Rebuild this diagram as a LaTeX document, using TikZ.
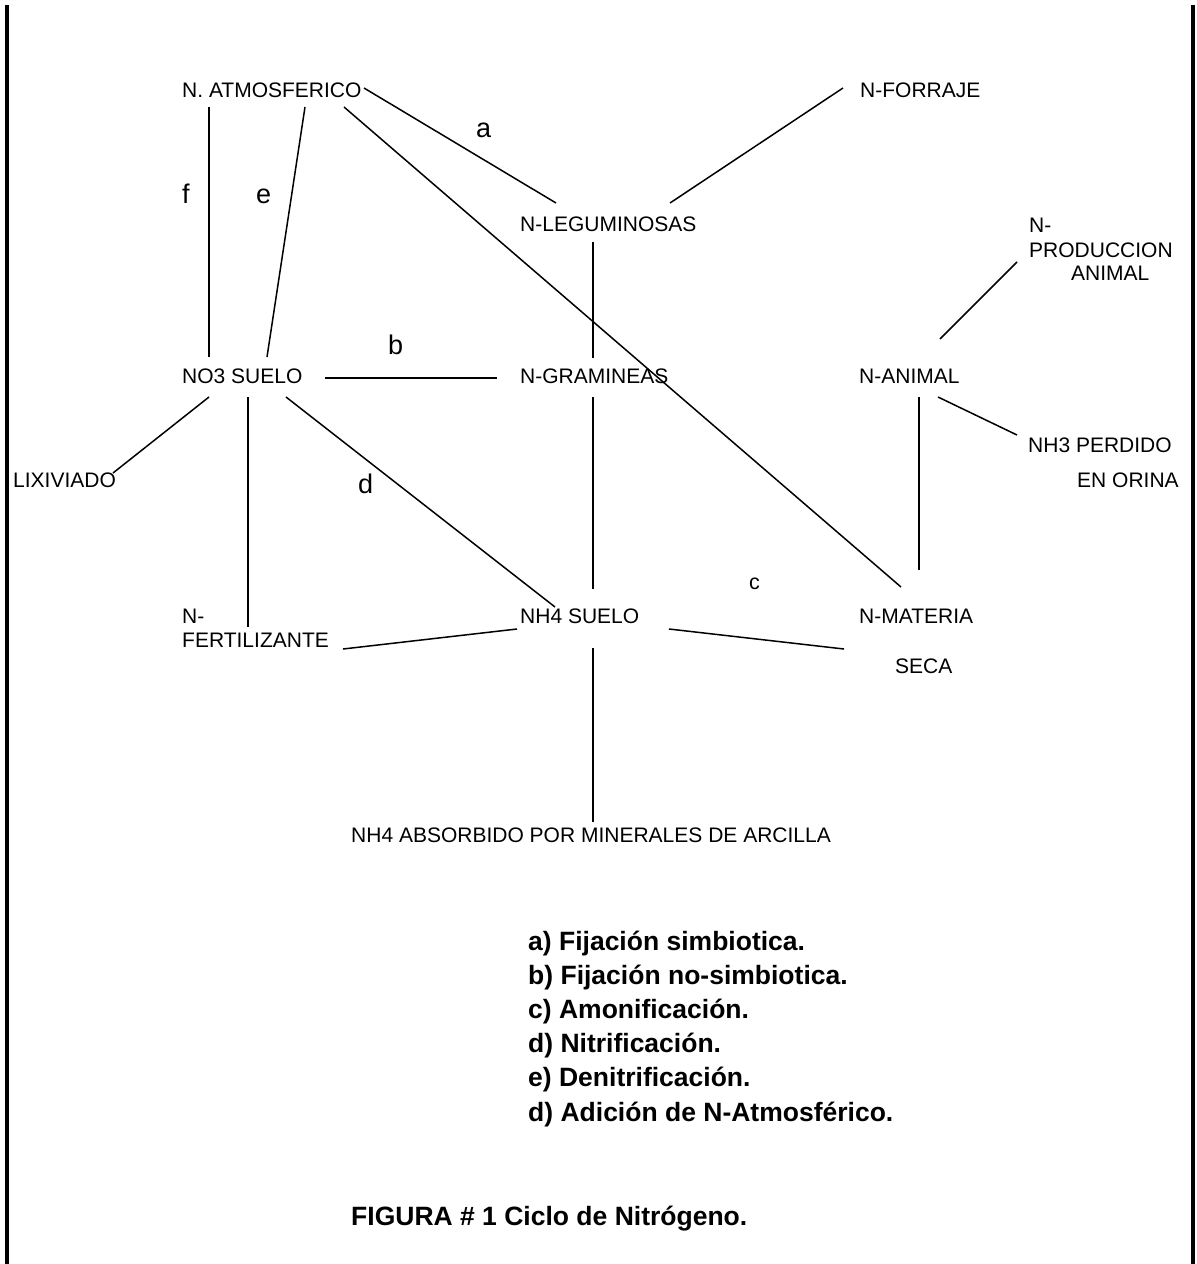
\documentclass[tikz,border=0pt]{standalone}
\usepackage{fontspec}
\setmainfont{Liberation Sans}
\begin{document}
\begin{tikzpicture}[x=1pt,y=-1pt,
  lbl/.style={anchor=base west, inner sep=0pt, font=\fontsize{21}{25}\selectfont},
  letter/.style={anchor=base west, inner sep=0pt, font=\fontsize{27}{30}\selectfont},
  small/.style={anchor=base west, inner sep=0pt, font=\fontsize{21.5}{25}\selectfont},
  legend/.style={anchor=base west, inner sep=0pt, font=\fontsize{26.5}{30}\selectfont\bfseries},
  conn/.style={line width=1.5pt, black},
  frameline/.style={line width=4pt, black}]
\useasboundingbox (0,0) rectangle (1197,1264);

% page frame (left and right rules)
\coordinate (frameLtop) at (7,5);
\coordinate (frameLbot) at (7,1264);
\coordinate (frameRtop) at (1193,5);
\coordinate (frameRbot) at (1193,1264);
\draw[frameline] (frameLtop) -- (frameLbot);
\draw[frameline] (frameRtop) -- (frameRbot);

% nodes
\node[lbl] (atm)   at (182,97)  {N. ATMOSFERICO};
\node[lbl] (forr)  at (860,97)  {N-FORRAJE};
\node[lbl] (leg)   at (520,231) {N-LEGUMINOSAS};
\node[lbl] (prodA) at (1029,232) {N-};
\node[lbl] (prodB) at (1029,257) {PRODUCCION};
\node[lbl] (prodC) at (1071,280) {ANIMAL};
\node[lbl] (no3)   at (182,383) {NO3 SUELO};
\node[lbl] (gram)  at (520,383) {N-GRAMINEAS};
\node[lbl] (anim)  at (859,383) {N-ANIMAL};
\node[lbl] (nh3A)  at (1028,452) {NH3 PERDIDO};
\node[lbl] (nh3B)  at (1077,487) {EN ORINA};
\node[lbl] (lix)   at (13,487)  {LIXIVIADO};
\node[lbl] (fertA) at (182,623) {N-};
\node[lbl] (fertB) at (182,647) {FERTILIZANTE};
\node[lbl] (nh4)   at (520,623) {NH4 SUELO};
\node[lbl] (matA)  at (859,623) {N-MATERIA};
\node[lbl] (matB)  at (895,673) {SECA};
\node[lbl] (absorb) at (351,842) {NH4 ABSORBIDO POR MINERALES DE ARCILLA};

% process letters
\node[letter] (la) at (476,137) {a};
\node[letter] (lb) at (388,354) {b};
\node[small]  (lc) at (749,589) {c};
\node[letter] (ld) at (358,493) {d};
\node[letter] (le) at (256,203) {e};
\node[letter] (lf) at (182,203) {f};

% connector end points
\coordinate (atmLegS) at (364,88);   \coordinate (atmLegE) at (556,203);
\coordinate (forLegS) at (843,88);   \coordinate (forLegE) at (670,203);
\coordinate (atmMatS) at (344,107);  \coordinate (atmMatE) at (901,587);
\coordinate (atmNoS)  at (305,107);  \coordinate (atmNoE)  at (267,357);
\coordinate (fS)      at (209,107);  \coordinate (fE)      at (209,357);
\coordinate (legGrS)  at (593,242);  \coordinate (legGrE)  at (593,358);
\coordinate (noGrS)   at (325,378);  \coordinate (noGrE)   at (497,378);
\coordinate (noLixS)  at (209,397);  \coordinate (noLixE)  at (113,473);
\coordinate (noFeS)   at (248,397);  \coordinate (noFeE)   at (248,627);
\coordinate (noNhS)   at (286,397);  \coordinate (noNhE)   at (555,607);
\coordinate (grNhS)   at (593,397);  \coordinate (grNhE)   at (593,589);
\coordinate (feNhS)   at (343,649);  \coordinate (feNhE)   at (517,629);
\coordinate (nhMaS)   at (669,629);  \coordinate (nhMaE)   at (844,649);
\coordinate (nhAbS)   at (593,648);  \coordinate (nhAbE)   at (593,822);
\coordinate (anPrS)   at (940,339);  \coordinate (anPrE)   at (1017,262);
\coordinate (anNhS)   at (938,397);  \coordinate (anNhE)   at (1017,435);
\coordinate (anMaS)   at (919,397);  \coordinate (anMaE)   at (919,570);

% connectors
\draw[conn] (atmLegS) -- (atmLegE);
\draw[conn] (forLegS) -- (forLegE);
\draw[conn] (atmMatS) -- (atmMatE);
\draw[conn] (atmNoS) -- (atmNoE);
\draw[conn] (fS) -- (fE);
\draw[conn] (legGrS) -- (legGrE);
\draw[conn] (noGrS) -- (noGrE);
\draw[conn] (noLixS) -- (noLixE);
\draw[conn] (noFeS) -- (noFeE);
\draw[conn] (noNhS) -- (noNhE);
\draw[conn] (grNhS) -- (grNhE);
\draw[conn] (feNhS) -- (feNhE);
\draw[conn] (nhMaS) -- (nhMaE);
\draw[conn] (nhAbS) -- (nhAbE);
\draw[conn] (anPrS) -- (anPrE);
\draw[conn] (anNhS) -- (anNhE);
\draw[conn] (anMaS) -- (anMaE);

% legend
\node[legend] (legA) at (528,950)    {a) Fijación simbiotica.};
\node[legend] (legB) at (528,984.2)  {b) Fijación no-simbiotica.};
\node[legend] (legC) at (528,1018.4) {c) Amonificación.};
\node[legend] (legD) at (528,1052.6) {d) Nitrificación.};
\node[legend] (legE) at (528,1086.8) {e) Denitrificación.};
\node[legend] (legF) at (528,1121)   {d) Adición de N-Atmosférico.};

% caption
\node[legend] (caption) at (351,1225) {FIGURA \# 1 Ciclo de Nitrógeno.};
\end{tikzpicture}
\end{document}
